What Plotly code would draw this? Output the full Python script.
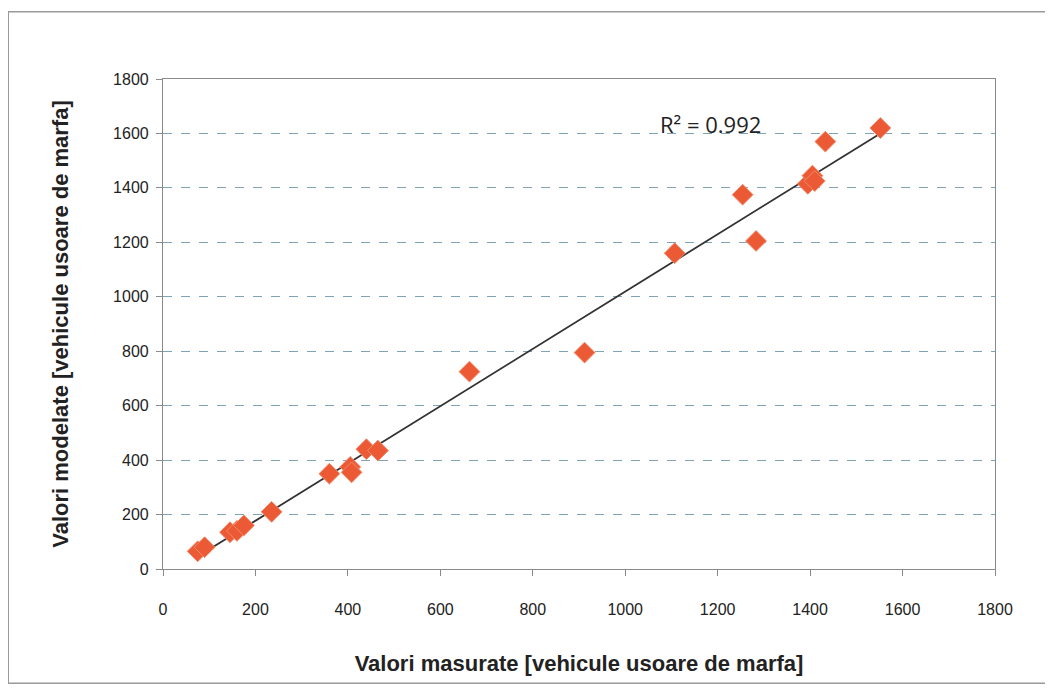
import numpy as np
import plotly.graph_objects as go

# Data
measured = [75, 90, 145, 160, 175, 235, 360, 405, 408, 440, 465, 663, 912, 1107, 1254, 1283, 1395, 1405, 1410, 1433, 1552]
modeled  = [65, 80, 135, 140, 160, 210, 350, 375, 355, 440, 435, 725, 795, 1160, 1375, 1205, 1415, 1445, 1425, 1570, 1620]
r2_label = "R\u00b2 = 0.992"
x_title = "Valori masurate [vehicule usoare de marfa]"
y_title = "Valori modelate [vehicule usoare de marfa]"
tick_vals = list(range(0, 1801, 200))

slope, intercept = np.polyfit(measured, modeled, 1)
xl = np.array([min(measured), max(measured)])
yl = slope * xl + intercept

fig = go.Figure()
fig.add_trace(go.Scatter(
    x=xl, y=yl, mode="lines",
    line=dict(color="#333333", width=1.8),
    showlegend=False, hoverinfo="skip"))
fig.add_trace(go.Scatter(
    x=measured, y=modeled, mode="markers",
    marker=dict(symbol="diamond", size=16, color="#ec5a35",
                line=dict(color="#f08a6a", width=1)),
    showlegend=False))

fig.add_annotation(x=1185, y=1635, text=r2_label, showarrow=False,
                   font=dict(family="Open Sans, Liberation Sans", size=22, color="#222222"),
                   xanchor="center", yanchor="middle")

# outer chart frame
fig.add_shape(type="rect", xref="paper", yref="paper",
              x0=-0.186, x1=1.08, y0=-0.233, y1=1.137,
              line=dict(color="#9a9a9a", width=1.5), fillcolor="rgba(0,0,0,0)", layer="below")

tick_font = dict(family="Liberation Sans", size=16, color="#222222")
title_font = dict(family="Liberation Sans", size=22, color="#222222")

fig.update_xaxes(range=[0, 1800], tickvals=tick_vals, showgrid=False,
                 showline=True, linecolor="#8a8a8a", linewidth=1.2, mirror=True,
                 ticks="outside", ticklen=6, tickcolor="#8a8a8a",
                 tickfont=tick_font, ticklabelstandoff=20,
                 title=dict(text="<b>" + x_title + "</b>", standoff=38, font=title_font),
                 zeroline=False)
fig.update_yaxes(range=[0, 1800], tickvals=tick_vals, showgrid=True,
                 gridcolor="#7fa4b6", griddash="dash", gridwidth=1.2,
                 showline=True, linecolor="#8a8a8a", linewidth=1.2, mirror=True,
                 ticks="outside", ticklen=6, tickcolor="#8a8a8a",
                 tickfont=tick_font, ticklabelstandoff=4,
                 title=dict(text="<b>" + y_title + "</b>", standoff=38, font=title_font),
                 zeroline=False)

fig.update_layout(
    width=1053, height=694,
    margin=dict(l=155, r=66, t=71, b=133, autoexpand=False),
    paper_bgcolor="white", plot_bgcolor="white",
)

fig.write_html("out.html")
